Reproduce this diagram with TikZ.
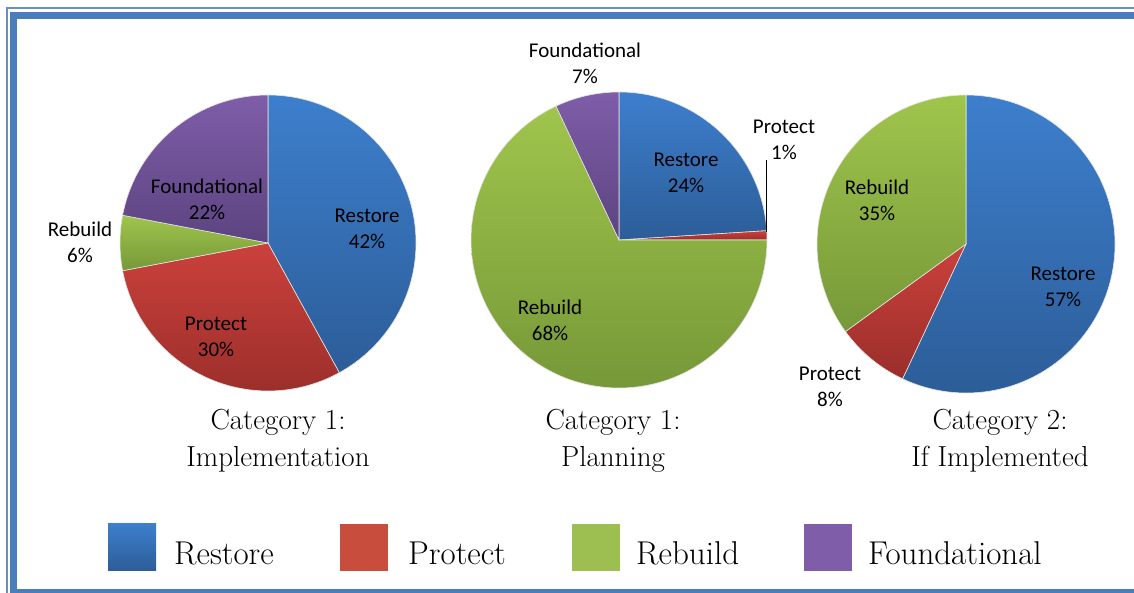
\documentclass[tikz,border=0pt]{standalone}
\usepackage{fontspec}
\newfontfamily\carlito{Carlito}
\usetikzlibrary{positioning}
\definecolor{frameblue}{HTML}{4A7EBB}
\definecolor{restoreT}{HTML}{3D7FCD}
\definecolor{restoreB}{HTML}{2C5D98}
\definecolor{protectT}{HTML}{CB413C}
\definecolor{protectB}{HTML}{9A2E2A}
\definecolor{rebuildT}{HTML}{A0C54C}
\definecolor{rebuildB}{HTML}{769838}
\definecolor{foundT}{HTML}{7F5DA9}
\definecolor{foundB}{HTML}{5C4480}
\tikzset{
 lbl/.style={font=\fontsize{21}{26}\selectfont\carlito, align=center, inner sep=0pt},
 ttl/.style={font=\fontsize{29}{37}\selectfont, align=center, inner sep=0pt},
 leg/.style={font=\fontsize{33}{38}\selectfont, anchor=base west, inner sep=0pt},
 legbox/.style={minimum width=48pt, minimum height=47pt, inner sep=0pt, anchor=south west}
}
% center, radius, start, end, top colour, bottom colour
\newcommand{\pieslice}[6]{%
 \path[draw=white!80!gray, line width=.6pt, top color=#5, bottom color=#6]
  (#1) -- ++(#3:#2) arc[start angle=#3, end angle=#4, radius=#2] -- cycle;}

\begin{document}
\begin{tikzpicture}[x=1pt,y=1pt]
\useasboundingbox (0,0) rectangle (1134,593);

% frame
\draw[frameblue!85, line width=2pt] (7,-20) -- (7,585) -- (1160,585);
\draw[frameblue, line width=7pt] (13.5,0.5) rectangle (1160,577.5);

\coordinate (c1) at (268,350);
\coordinate (c2) at (619,353);
\coordinate (c3) at (966,349);

% Category 1: Implementation
\pieslice{c1}{148}{90}{-61.2}{restoreT}{restoreB}
\pieslice{c1}{148}{-61.2}{-169.2}{protectT}{protectB}
\pieslice{c1}{148}{-169.2}{-190.8}{rebuildT}{rebuildB}
\pieslice{c1}{148}{-190.8}{-270}{foundT}{foundB}

% Category 1: Planning
\pieslice{c2}{148}{90}{3.6}{restoreT}{restoreB}
\pieslice{c2}{148}{3.6}{0}{protectT}{protectB}
\pieslice{c2}{148}{0}{-244.8}{rebuildT}{rebuildB}
\pieslice{c2}{148}{-244.8}{-270}{foundT}{foundB}

% Category 2: If Implemented
\pieslice{c3}{149}{90}{-115.2}{restoreT}{restoreB}
\pieslice{c3}{149}{-115.2}{-144}{protectT}{protectB}
\pieslice{c3}{149}{-144}{-270}{rebuildT}{rebuildB}

% data labels
\path (367,364) node[lbl, name=resA] {Restore\\42\%};
\path (207,394) node[lbl, name=fndA] {Foundational\\22\%};
\path (216,256) node[lbl, name=proA] {Protect\\30\%};
\path (80,351) node[lbl, name=rebA] {Rebuild\\6\%};

\path (585,530) node[lbl, name=fndB] {Foundational\\7\%};
\path (686,420) node[lbl, name=resB] {Restore\\24\%};
\path (784,453) node[lbl, name=proB] {Protect\\1\%};
\path (550,273) node[lbl, name=rebB] {Rebuild\\68\%};

\path (877,393) node[lbl, name=rebC] {Rebuild\\35\%};
\path (1063,306) node[lbl, name=resC] {Restore\\57\%};
\path (830,206) node[lbl, name=proC] {Protect\\8\%};

\coordinate (leadtop) at (766,433);
\coordinate (leadbot) at (766,361);
\draw[line width=1pt] (leadtop) -- (leadbot);

% titles
\path (278,152) node[ttl, name=ttlA] {Category 1:\\Implementation};
\path (613,152) node[ttl, name=ttlB] {Category 1:\\Planning};
\path (1000,152) node[ttl, name=ttlC] {Category 2:\\If Implemented};

% legend
\path (108,22) node[legbox, name=boxR, top color=restoreT, bottom color=restoreB] {};
\path (340,22) node[legbox, name=boxP, fill=protectT!80!brown] {};
\path (572,22) node[legbox, name=boxB, fill=rebuildT!90!gray] {};
\path (804,22) node[legbox, name=boxF, fill=foundT] {};
\path (174,28) node[leg, name=txtR] {Restore};
\path (408,28) node[leg, name=txtP] {Protect};
\path (636,28) node[leg, name=txtB] {Rebuild};
\path (868,28) node[leg, name=txtF] {Foundational};

\end{tikzpicture}
\end{document}
